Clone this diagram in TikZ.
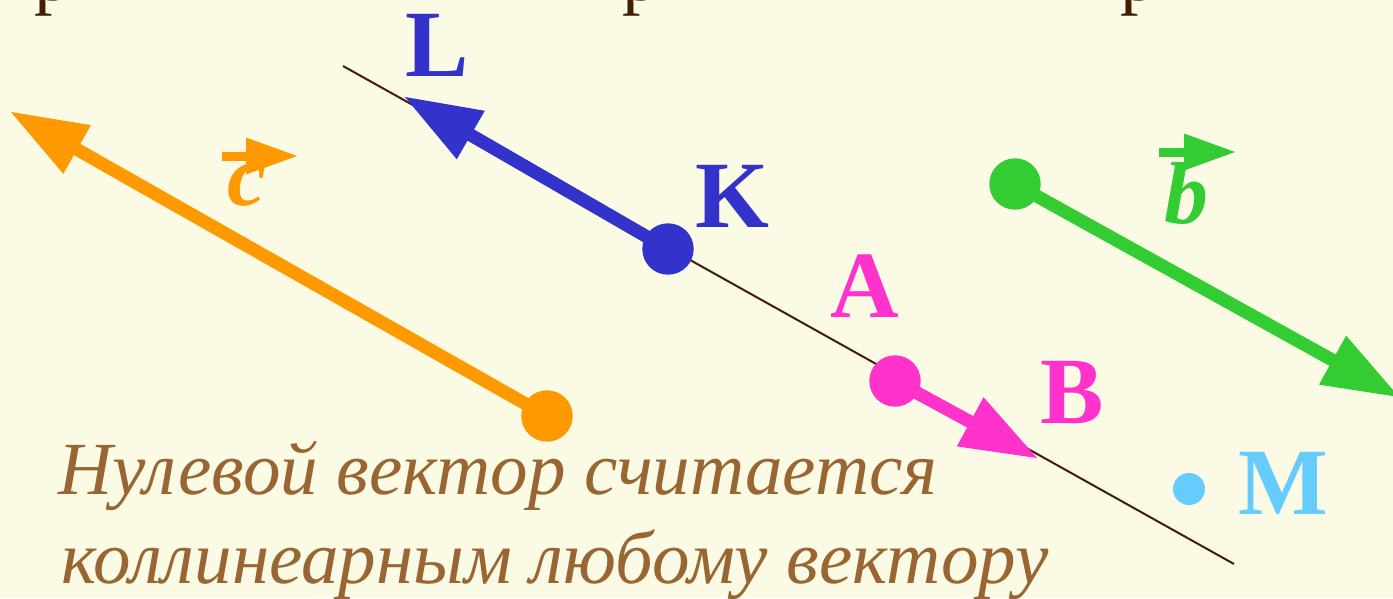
\documentclass[tikz,border=0pt]{standalone}
\usepackage{fontspec}
\setmainfont{Liberation Serif}
\usetikzlibrary{calc}
\definecolor{bg}{RGB}{251,250,228}
\definecolor{cblue}{RGB}{51,51,204}
\definecolor{corange}{RGB}{255,153,0}
\definecolor{cgreen}{RGB}{51,204,51}
\definecolor{cpink}{RGB}{255,51,204}
\definecolor{csky}{RGB}{102,204,255}
\definecolor{ctext}{RGB}{153,102,51}
\definecolor{cline}{RGB}{64,32,0}
\newcommand\drawvec[3]{% colour, start node, tip coordinate
  \coordinate (#3back) at ($(#3)!76pt!(#2.center)$);
  \draw[line width=13pt, #1] (#2.center) -- ($(#3)!60pt!(#2.center)$);
  \fill[#1] (#3) -- ($(#3back)!28pt!90:(#3)$) -- ($(#3back)!28pt!-90:(#3)$) -- cycle;
}
\newcommand\labelarrow[3]{% colour, start, tip
  \coordinate (#3back) at ($(#3)!51pt!(#2)$);
  \draw[line width=9pt, #1] (#2) -- ($(#3)!45pt!(#2)$);
  \fill[#1] (#3) -- ($(#3back)!18.5pt!90:(#3)$) -- ($(#3back)!18.5pt!-90:(#3)$) -- cycle;
}
\tikzset{
  dot/.style={circle, inner sep=0pt, minimum size=51.4pt},
  ptlabel/.style={anchor=base, inner sep=0pt, font=\fontsize{95}{95}\selectfont\bfseries},
  veclabel/.style={anchor=base, inner sep=0pt, font=\fontsize{88}{88}\selectfont\bfseries\itshape},
  bodytext/.style={anchor=base west, inner sep=0pt, text=ctext, font=\fontsize{75}{75}\selectfont\itshape},
  toptext/.style={anchor=base, inner sep=0pt, text=cline, font=\fontsize{74}{74}\selectfont}
}
\begin{document}
\begin{tikzpicture}[x=1pt, y=-1pt]
\useasboundingbox (0,0) rectangle (1393,598);
\clip (0,0) rectangle (1393,598);
\fill[bg] (0,0) rectangle (1393,598);

% cut-off title line
\node[toptext] (t1) at (53,0) {р};
\node[toptext] (t2) at (641,0) {р};
\node[toptext] (t3) at (1139,0) {р};

% line through K
\coordinate (l1) at (343,66);
\coordinate (l2) at (1234,564);
\draw[line width=2pt, cline] (l1) -- (l2);

% orange vector c
\node[dot, fill=corange] (C0) at (547,416) {};
\coordinate (C1) at (11,112);
\drawvec{corange}{C0}{C1}

% blue vector KL
\node[dot, fill=cblue] (K) at (668,249) {};
\coordinate (L) at (405,97);
\drawvec{cblue}{K}{L}

% pink vector AB
\node[dot, fill=cpink] (A) at (895,381) {};
\coordinate (B) at (1037,458);
\drawvec{cpink}{A}{B}

% green vector b
\node[dot, fill=cgreen] (G0) at (1015,184) {};
\coordinate (G1) at (1399,397);
\drawvec{cgreen}{G0}{G1}

% point M
\node[circle, inner sep=0pt, minimum size=32pt, fill=csky] (Mdot) at (1189,489) {};

% point labels
\node[ptlabel, text=cblue] (Llab) at (437,76) {L};
\node[ptlabel, text=cblue] (Klab) at (732,227) {K};
\node[ptlabel, text=cpink] (Alab) at (865,317) {A};
\node[ptlabel, text=cpink] (Blab) at (1072,423) {B};
\node[ptlabel, text=csky] (Mlab) at (1283,514) {M};

% vector labels
\node[veclabel, text=corange] (clab) at (247,205) {c};
\coordinate (ca) at (222,156);
\coordinate (cb) at (297,156);
\labelarrow{corange}{ca}{cb}
\node[veclabel, text=cgreen] (blab) at (1186,223) {b};
\coordinate (ba) at (1159,152);
\coordinate (bb) at (1235,152);
\labelarrow{cgreen}{ba}{bb}

% text
\node[bodytext] (txt1) at (58,494) {Нулевой вектор считается};
\node[bodytext] (txt2) at (61,583) {коллинеарным любому вектору};
\end{tikzpicture}
\end{document}
